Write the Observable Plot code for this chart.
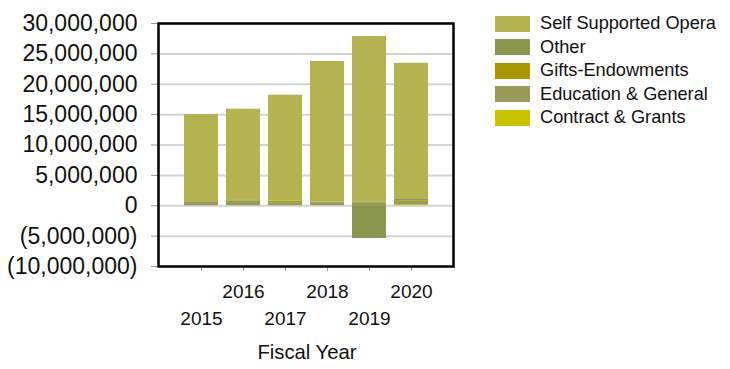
<!DOCTYPE html>
<html>
<head>
<meta charset="utf-8">
<script src="https://cdn.jsdelivr.net/npm/d3@7"></script>
<script src="https://cdn.jsdelivr.net/npm/@observablehq/plot@0.6"></script>
<style>
  html, body { margin: 0; padding: 0; background: #fff; }
  #wrap { position: relative; width: 730px; height: 369px; font-family: "Liberation Sans", Arial, sans-serif; }
  #legend { position: absolute; left: 495px; top: 12px; }
  .row { display: flex; align-items: center; height: 23.5px; }
  .sw { width: 35px; height: 16px; margin-right: 10px; }
  .lab { font-size: 18.2px; color: #111; white-space: nowrap; }
</style>
</head>
<body>
<div id="wrap"><div id="legend"></div></div>
<script>
const years = [2015, 2016, 2017, 2018, 2019, 2020];
const series = ["Self Supported Opera", "Other", "Gifts-Endowments", "Education & General", "Contract & Grants"];
const colors = ["#b5b34f", "#8b964e", "#ac9700", "#989a58", "#c9c300"];
// values in dollars
const selfSupported = [14300000, 14900000, 17450000, 23100000, 27260000, 22300000];
const other         = [   50000,   100000,    50000,    50000, -5400000,   400000];
const gifts         = [  100000,   100000,   200000,   100000,   100000,   200000];
const education     = [  550000,   800000,   500000,   500000,   500000,   400000];
const contract      = [       0,        0,        0,        0,        0,   150000];
const yTicks = [-10000000, -5000000, 0, 5000000, 10000000, 15000000, 20000000, 25000000, 30000000];

// stack order bottom -> top
const stackOrder = [
  ["Contract & Grants", contract],
  ["Education & General", education],
  ["Gifts-Endowments", gifts],
  ["Other", other],
  ["Self Supported Opera", selfSupported]
];
const rows = [];
for (const [name, vals] of stackOrder) {
  years.forEach((y, i) => rows.push({year: y, series: name, value: vals[i]}));
}

const fmt = d => d < 0 ? `(${d3.format(",")(-d)})` : d3.format(",")(d);

const chart = Plot.plot({
  width: 730,
  height: 369,
  marginLeft: 158,
  marginRight: 277,
  marginTop: 23,
  marginBottom: 103,
  style: {fontFamily: "'Liberation Sans', Arial, sans-serif", background: "transparent", overflow: "visible"},
  x: {type: "band", domain: years, paddingInner: 0.2, paddingOuter: 0.6, align: 0.5, axis: null},
  y: {domain: [-10000000, 30000000], axis: null},
  color: {domain: series, range: colors},
  marks: [
    Plot.gridY(yTicks.filter(t => t > -10000000 && t < 30000000), {stroke: "#d4d4d4", strokeOpacity: 1, strokeWidth: 2}),
    Plot.barY(rows, {x: "year", y: "value", fill: "series", order: null}),
    Plot.axisY(yTicks, {tickFormat: fmt, tickSize: 7, tickPadding: 14, fontSize: 23, stroke: "#999", color: "#111", label: null}),
    Plot.axisX(years, {tickSize: 5, tickFormat: () => "", stroke: "#999", label: null}),
    Plot.text(years.filter(y => y % 2 === 0), {x: d => d, text: d => String(d), frameAnchor: "bottom", dy: 25, lineAnchor: "middle", fontSize: 19, fill: "#111"}),
    Plot.text(years.filter(y => y % 2 === 1), {x: d => d, text: d => String(d), frameAnchor: "bottom", dy: 52, lineAnchor: "middle", fontSize: 19, fill: "#111"}),
    Plot.text(["Fiscal Year"], {frameAnchor: "bottom", dx: 1, dy: 86, lineAnchor: "middle", fontSize: 20.3, fill: "#111"}),
    Plot.frame({stroke: "#000", strokeWidth: 2.5})
  ]
});
document.getElementById("wrap").prepend(chart);

const legend = document.getElementById("legend");
series.forEach((s, i) => {
  const r = document.createElement("div");
  r.className = "row";
  r.innerHTML = `<div class="sw" style="background:${colors[i]}"></div><div class="lab">${s}</div>`;
  legend.appendChild(r);
});
</script>
</body>
</html>
